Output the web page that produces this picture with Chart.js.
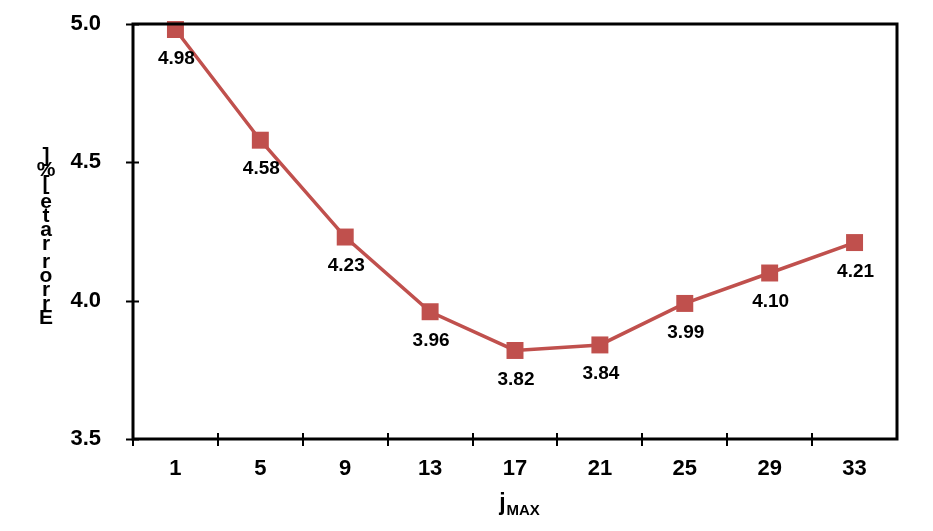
<!DOCTYPE html>
<html>
<head>
<meta charset="utf-8">
<script src="https://cdn.jsdelivr.net/npm/chart.js@4"></script>
<style>
  html, body { margin: 0; padding: 0; background: #fff; }
  #wrap { width: 933px; height: 531px; }
</style>
</head>
<body>
<div id="wrap"><canvas id="myChart"></canvas></div>
<script>
const categories = ['1', '5', '9', '13', '17', '21', '25', '29', '33'];
const errorValues = [4.98, 4.58, 4.23, 3.96, 3.82, 3.84, 3.99, 4.10, 4.21];
const yTicks = [3.5, 4.0, 4.5, 5.0];
const yTitle = 'Error rate [%]';

const FONT = '"Liberation Sans", Arial, sans-serif';
const RED = '#C0504D';

// frame, crossing ticks, titles and value labels
const decor = {
  id: 'decor',
  afterDraw(chart) {
    const ctx = chart.ctx;
    const a = chart.chartArea;
    const x = chart.scales.x, y = chart.scales.y;
    ctx.save();
    ctx.strokeStyle = '#000';
    ctx.lineWidth = 3;
    ctx.lineCap = 'square';
    ctx.beginPath();
    ctx.moveTo(a.left, a.bottom);
    ctx.lineTo(a.left, a.top);
    ctx.lineTo(a.right, a.top);
    ctx.lineTo(a.right, a.bottom);
    ctx.lineTo(a.left, a.bottom);
    ctx.stroke();

    ctx.lineWidth = 2;
    ctx.lineCap = 'butt';
    ctx.beginPath();
    yTicks.forEach(v => {
      const py = Math.round(y.getPixelForValue(v)) + 0.5;
      ctx.moveTo(a.left - 7, py);
      ctx.lineTo(a.left + 6, py);
    });
    const step = (a.right - a.left) / categories.length;
    for (let i = 0; i < categories.length; i++) {
      const px = Math.round(a.left + i * step);
      ctx.moveTo(px, a.bottom - 6);
      ctx.lineTo(px, a.bottom + 7);
    }
    ctx.stroke();

    // value labels under each point
    ctx.fillStyle = '#000';
    ctx.font = 'bold 19px ' + FONT;
    ctx.textAlign = 'center';
    ctx.textBaseline = 'middle';
    const meta = chart.getDatasetMeta(0);
    meta.data.forEach((pt, i) => {
      ctx.fillText(errorValues[i].toFixed(2), pt.x + 1, pt.y + 29);
    });

    // x title: j with subscript MAX
    const cx = (a.left + a.right) / 2;
    ctx.textAlign = 'left';
    ctx.textBaseline = 'alphabetic';
    ctx.font = 'bold 23px ' + FONT;
    const jw = ctx.measureText('j').width;
    ctx.font = 'bold 15px ' + FONT;
    const mw = ctx.measureText('MAX').width;
    const sx = cx - (jw + mw) / 2 + 4;
    ctx.font = 'bold 23px ' + FONT;
    ctx.fillText('j', sx, 510);
    ctx.font = 'bold 15px ' + FONT;
    ctx.fillText('MAX', sx + jw + 1, 515);

    // y title: characters stacked bottom to top
    ctx.font = 'bold 21px ' + FONT;
    ctx.textAlign = 'center';
    ctx.textBaseline = 'middle';
    let cy = 318;
    for (const ch of yTitle) {
      if (ch === ' ') { cy -= 4; continue; }
      ctx.fillText(ch, 46, cy);
      cy -= 14;
    }
    ctx.restore();
  }
};

new Chart(document.getElementById('myChart'), {
  type: 'line',
  data: {
    labels: categories,
    datasets: [{
      data: errorValues,
      borderColor: RED,
      backgroundColor: RED,
      borderWidth: 3.5,
      pointStyle: 'rect',
      pointRadius: 12,
      pointHoverRadius: 12,
      pointBorderWidth: 0,
      tension: 0,
      clip: false
    }]
  },
  options: {
    responsive: true,
    maintainAspectRatio: false,
    animation: false,
    events: [],
    layout: { padding: { top: 24, right: 36, left: 0, bottom: 0 } },
    plugins: { legend: { display: false }, tooltip: { enabled: false } },
    scales: {
      x: {
        type: 'category',
        offset: true,
        grid: { display: false, offset: true },
        border: { display: false },
        ticks: { color: '#000', font: { family: FONT, size: 22, weight: 'bold' }, padding: 9 },
        afterFit(s) { s.height = 92; s.paddingLeft = 0; s.paddingRight = 0; }
      },
      y: {
        min: 3.5,
        max: 5.0,
        afterBuildTicks(s) { s.ticks = yTicks.map(v => ({ value: v })); },
        grid: { display: false },
        border: { display: false },
        ticks: {
          color: '#000',
          font: { family: FONT, size: 22, weight: 'bold' },
          padding: 24,
          callback: v => Number(v).toFixed(1)
        },
        afterFit(s) { s.width = 133; s.paddingTop = 0; s.paddingBottom = 0; }
      }
    }
  },
  plugins: [decor]
});
</script>
</body>
</html>
